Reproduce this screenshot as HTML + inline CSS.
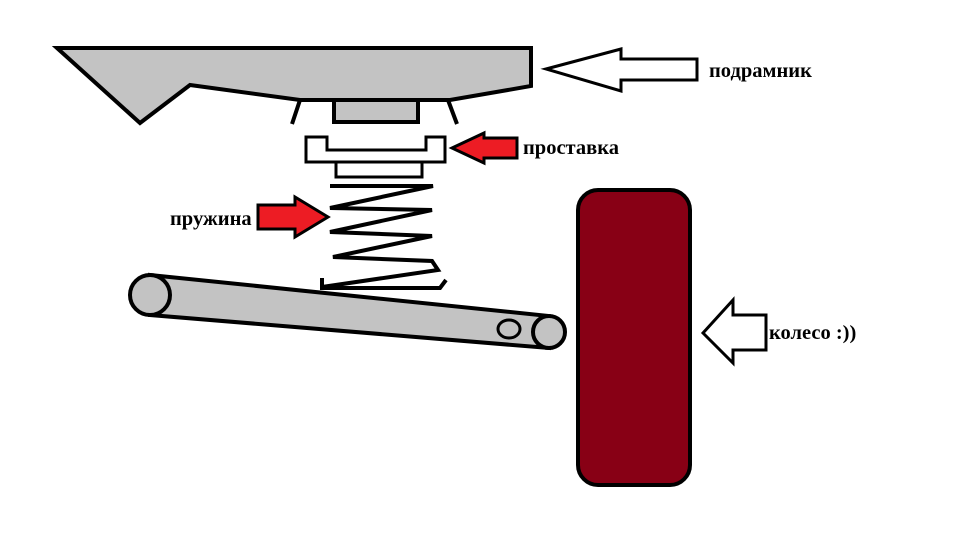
<!DOCTYPE html>
<html><head><meta charset="utf-8"><style>html,body{margin:0;padding:0;background:#fff;width:972px;height:542px;overflow:hidden}
text{font-family:"Liberation Serif",serif;font-weight:bold;font-size:20.5px;fill:#000}</style></head><body>
<svg width="972" height="542" viewBox="0 0 972 542" xmlns="http://www.w3.org/2000/svg">
<g stroke="#000" stroke-width="4" stroke-linejoin="miter">
<polygon points="57,48 531,48 531,86 450,100 300,100 190,85 140,123" fill="#c3c3c3"/>
<line x1="300" y1="100" x2="292" y2="124"/>
<line x1="448" y1="100" x2="457" y2="124"/>
<rect x="334" y="100" width="84" height="22" fill="#c3c3c3"/>
<polygon points="306,137 327,137 327,150 426,150 426,137 445,137 445,162 306,162" fill="#fff" stroke-width="3"/>
<rect x="336" y="162" width="86" height="15" fill="#fff" stroke-width="3"/>
<polyline points="330,186 433,186 330,208 432,210 330,232 432,236 333,257 432,261 438,270 322,287 322,278" fill="none" stroke-width="4"/>
<polyline points="320,288 440,288 446,280" fill="none" stroke-width="4"/>
<polygon points="150,275 549,316 549,348 150,315" fill="#c3c3c3"/>
<circle cx="150" cy="295" r="20" fill="#c3c3c3"/>
<circle cx="549" cy="332" r="16" fill="#c3c3c3"/>
<ellipse cx="509" cy="329" rx="11" ry="9" fill="#c3c3c3" stroke-width="3"/>
<rect x="578" y="190" width="112" height="295" rx="20" fill="#880015"/>
<polygon points="546,69 621,49 621,59 697,59 697,80 621,80 621,91" fill="#fff" stroke-width="3"/>
<polygon points="452,148 484,133 484,138 517,138 517,158 484,158 484,163" fill="#ed1c24" stroke-width="3"/>
<polygon points="328,217 295,197 295,205 258,205 258,229 295,229 295,237" fill="#ed1c24" stroke-width="3"/>
<polygon points="703,333 733,300 733,315 766,315 766,350 733,350 733,363" fill="#fff" stroke-width="3"/>
</g>
<text x="709" y="77">подрамник</text>
<text x="523" y="154">проставка</text>
<text x="170" y="225">пружина</text>
<text x="769" y="339">колесо :))</text>
</svg>
</body></html>
